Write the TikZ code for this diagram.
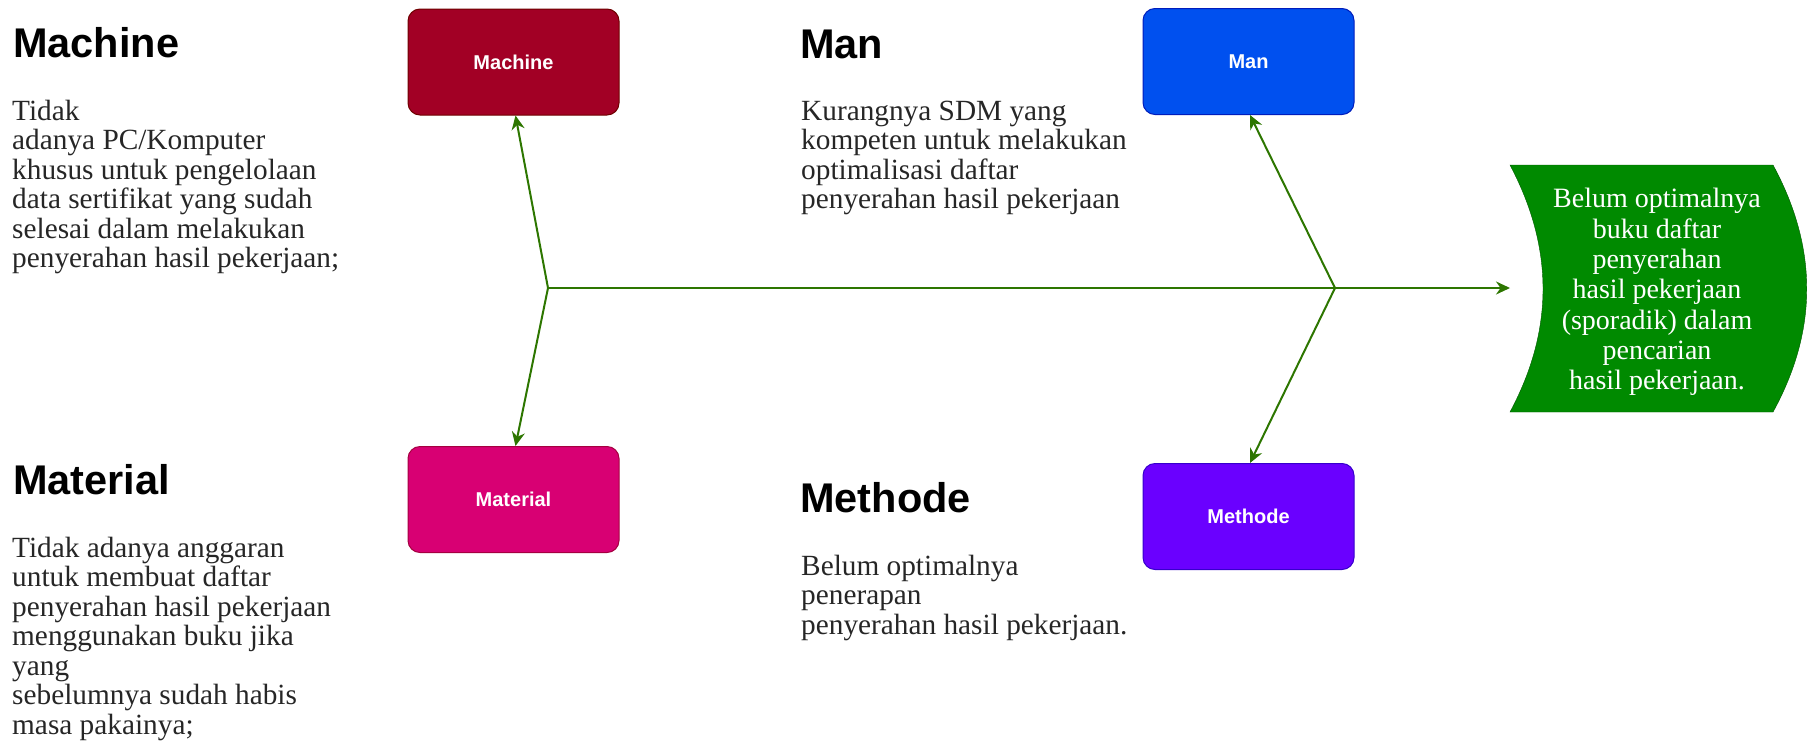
\documentclass[tikz,border=0pt]{standalone}
\usepackage{fontspec}
\setmainfont{Liberation Serif}
\setsansfont{Liberation Sans}
\usetikzlibrary{arrows.meta}

\definecolor{crimsonfill}{HTML}{A20025}
\definecolor{crimsonline}{HTML}{6F0000}
\definecolor{magentafill}{HTML}{D80073}
\definecolor{magentaline}{HTML}{A50040}
\definecolor{cobaltfill}{HTML}{0050EF}
\definecolor{cobaltline}{HTML}{001DBC}
\definecolor{indigofill}{HTML}{6A00FF}
\definecolor{indigoline}{HTML}{3700CC}
\definecolor{effectfill}{HTML}{008A00}
\definecolor{effectline}{HTML}{005700}
\definecolor{bonegreen}{HTML}{2D7600}

\tikzset{
  cause/.style={draw, line width=1pt, rounded corners=12pt, minimum width=211pt,
    minimum height=106pt, text=white, font=\sffamily\bfseries\fontsize{20}{24}\selectfont},
  heading/.style={anchor=base west, inner sep=0pt,
    font=\sffamily\bfseries\fontsize{41.5}{48}\selectfont},
  % base west of a multi-line note is the baseline of its last line
  note/.style={anchor=base west, inner sep=0pt, align=left, text=black!85,
    font=\fontsize{29.3}{29.5}\selectfont},
  bone/.style={draw=bonegreen, line width=2pt, -{Stealth[length=14pt,width=13pt]}},
}

\begin{document}
\begin{tikzpicture}[x=1pt,y=-1pt]
\useasboundingbox (0,0) rectangle (1807,742);
%
\node[cause, fill=crimsonfill, draw=crimsonline] (machine) at (513.5,62) {Machine};
\node[cause, fill=magentafill, draw=magentaline] (material) at (513.5,499.5) {Material};
\node[cause, fill=cobaltfill, draw=cobaltline] (man) at (1248.5,61.5) {Man};
\node[cause, fill=indigofill, draw=indigoline] (methode) at (1248.5,516.5) {Methode};
%
\coordinate (jl) at (548,288);
\coordinate (jr) at (1335,288);
\coordinate (effin) at (1510,288);
%
\fill[effectfill, draw=effectline] (1510,165) -- (1773,165)
  .. controls (1818,248) and (1818,330) .. (1773,412) -- (1510,412)
  .. controls (1554,330) and (1554,248) .. (1510,165) -- cycle;
\node[text=white, align=center, font=\fontsize{28}{30.3}\selectfont] (effect) at (1657,292)
  {Belum optimalnya\\buku daftar\\penyerahan\\hasil pekerjaan\\(sporadik) dalam\\pencarian\\hasil pekerjaan.};
%
\draw[bone] (jl) -- (effin);
\draw[bone] (jl) -- ([xshift=2pt]machine.south);
\draw[bone] (jl) -- ([xshift=2pt]material.north);
\draw[bone] (jr) -- ([xshift=1.5pt]man.south);
\draw[bone] (jr) -- ([xshift=1.5pt]methode.north);
%
\node[heading] (machinehead) at (13,57) {Machine};
\node[note] (machinenote) at (12,267.5) {Tidak\\adanya PC/Komputer\\khusus untuk pengelolaan\\data sertifikat yang sudah\\selesai dalam melakukan\\penyerahan hasil pekerjaan;};
\node[heading] (materialhead) at (13,494) {Material};
\node[note] (materialnote) at (12,734) {Tidak adanya anggaran\\untuk membuat daftar\\penyerahan hasil pekerjaan\\menggunakan buku jika\\yang\\sebelumnya sudah habis\\masa pakainya;};
\node[heading] (manhead) at (800,58) {Man};
\node[note] (mannote) at (801,208.5) {Kurangnya SDM yang\\kompeten untuk melakukan\\optimalisasi daftar\\penyerahan hasil pekerjaan};
\node[heading] (methodehead) at (800,512) {Methode};
\node[note] (methodenote) at (801,634) {Belum optimalnya\\penerapan\\penyerahan hasil pekerjaan.};
\end{tikzpicture}
\end{document}
